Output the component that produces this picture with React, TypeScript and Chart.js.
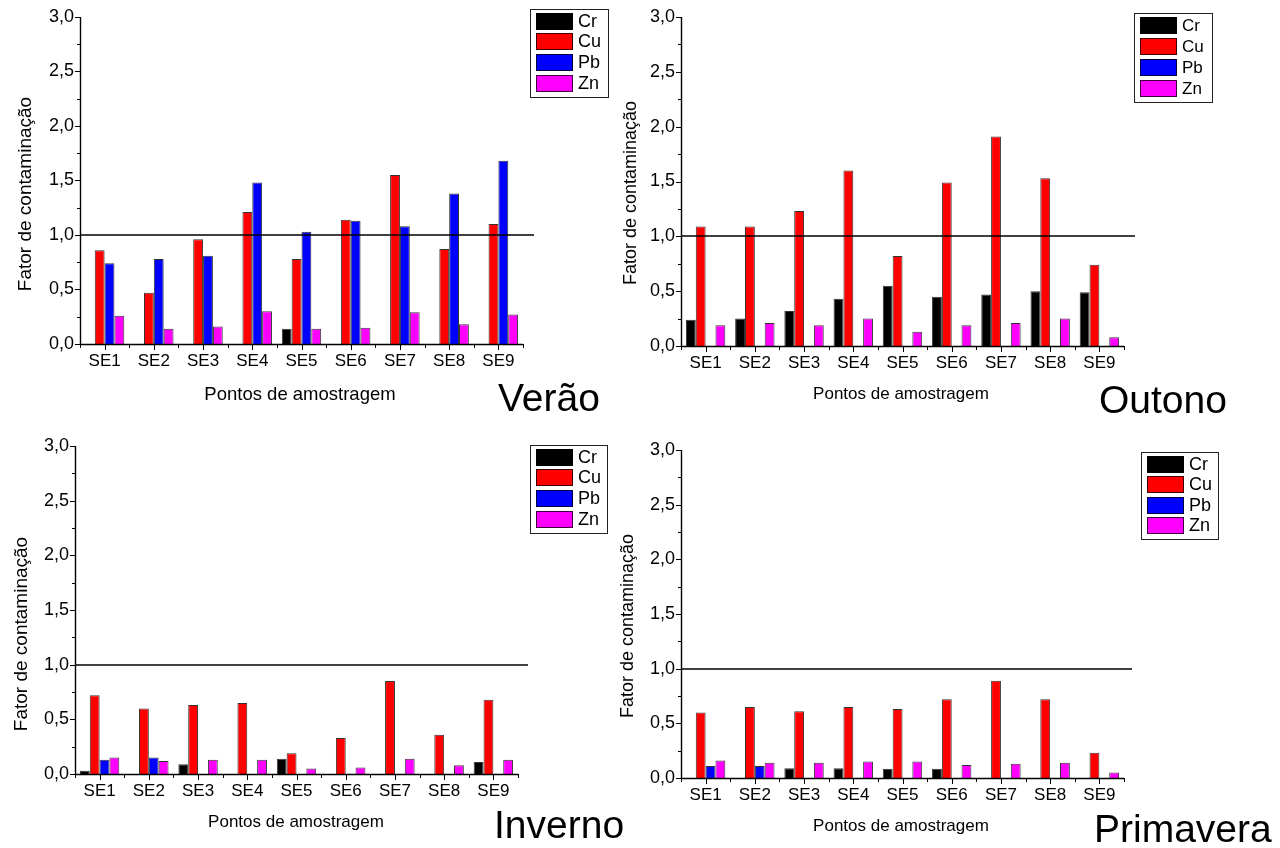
import React, { useEffect, useRef } from 'react';
import { Chart, registerables } from 'chart.js';

Chart.register(...registerables);

// ---------- data ----------
const categories = ['SE1', 'SE2', 'SE3', 'SE4', 'SE5', 'SE6', 'SE7', 'SE8', 'SE9'];
const metals = ['Cr', 'Cu', 'Pb', 'Zn'];
const metalColors = ['#000000', '#ff0000', '#0000ff', '#ff00ff'];
const yTickLabels = ['0,0', '0,5', '1,0', '1,5', '2,0', '2,5', '3,0'];
const referenceLevel = 1.0;
const yAxisTitle = 'Fator de contaminação';
const xAxisTitle = 'Pontos de amostragem';

const veraoCr = [null, null, null, null, 0.14, null, null, null, null];
const veraoCu = [0.86, 0.47, 0.96, 1.21, 0.78, 1.14, 1.55, 0.87, 1.1];
const veraoPb = [0.74, 0.78, 0.81, 1.48, 1.03, 1.13, 1.08, 1.38, 1.68];
const veraoZn = [0.26, 0.14, 0.16, 0.3, 0.14, 0.15, 0.29, 0.18, 0.27];

const outonoCr = [0.24, 0.25, 0.32, 0.43, 0.55, 0.45, 0.47, 0.5, 0.49];
const outonoCu = [1.09, 1.09, 1.23, 1.6, 0.82, 1.49, 1.91, 1.53, 0.74];
const outonoPb = [null, null, null, null, null, null, null, null, null];
const outonoZn = [0.19, 0.21, 0.19, 0.25, 0.13, 0.19, 0.21, 0.25, 0.08];

const invernoCr = [0.03, null, 0.09, null, 0.14, null, null, null, 0.11];
const invernoCu = [0.72, 0.6, 0.63, 0.65, 0.19, 0.33, 0.85, 0.36, 0.68];
const invernoPb = [0.13, 0.15, null, null, null, null, null, null, null];
const invernoZn = [0.15, 0.12, 0.13, 0.13, 0.05, 0.06, 0.14, 0.08, 0.13];

const primaveraCr = [null, null, 0.09, 0.09, 0.085, 0.085, null, null, null];
const primaveraCu = [0.6, 0.65, 0.61, 0.65, 0.63, 0.72, 0.89, 0.72, 0.23];
const primaveraPb = [0.11, 0.11, null, null, null, null, null, null, null];
const primaveraZn = [0.16, 0.14, 0.14, 0.15, 0.15, 0.12, 0.13, 0.14, 0.05];

// ---------- layout ----------
const FONT = "'Liberation Sans', Arial, sans-serif";
const PAGE_W = 1280;
const PAGE_H = 848;
const Y_SCALE_W = 60;
const X_SCALE_H = 40;

type Panel = {
  season: string;
  series: (number | null)[][];
  axisX: number;
  axisEnd: number;
  yTop: number;
  y0: number;
  lineEnd: number;
  legend: { x: number; y: number; w: number; h: number; size: number };
  xTitle: { x: number; y: number; size: number };
  yTitle: { x: number; y: number; size: number };
  label: { x: number; y: number };
};

const panels: Panel[] = [
  {
    season: 'Verão',
    series: [veraoCr, veraoCu, veraoPb, veraoZn],
    axisX: 80, axisEnd: 523, yTop: 16, y0: 344, lineEnd: 534,
    legend: { x: 530, y: 9, w: 78, h: 88, size: 18 },
    xTitle: { x: 300, y: 400, size: 18.5 },
    yTitle: { x: 26, y: 194, size: 19 },
    label: { x: 498, y: 411 },
  },
  {
    season: 'Outono',
    series: [outonoCr, outonoCu, outonoPb, outonoZn],
    axisX: 681, axisEnd: 1124, yTop: 17, y0: 346, lineEnd: 1135,
    legend: { x: 1134, y: 13, w: 78, h: 89, size: 17 },
    xTitle: { x: 901, y: 399, size: 17 },
    yTitle: { x: 631, y: 193, size: 18 },
    label: { x: 1099, y: 413 },
  },
  {
    season: 'Inverno',
    series: [invernoCr, invernoCu, invernoPb, invernoZn],
    axisX: 75, axisEnd: 518, yTop: 446, y0: 774, lineEnd: 528,
    legend: { x: 530, y: 445, w: 77, h: 88, size: 18 },
    xTitle: { x: 296, y: 827, size: 17 },
    yTitle: { x: 22, y: 634, size: 19 },
    label: { x: 494, y: 838 },
  },
  {
    season: 'Primavera',
    series: [primaveraCr, primaveraCu, primaveraPb, primaveraZn],
    axisX: 681, axisEnd: 1124, yTop: 450, y0: 778, lineEnd: 1132,
    legend: { x: 1141, y: 452, w: 77, h: 87, size: 18 },
    xTitle: { x: 901, y: 831, size: 17 },
    yTitle: { x: 628, y: 626, size: 18 },
    label: { x: 1094, y: 842 },
  },
];

function makeDecor(p: Panel) {
  return {
    id: 'decor',
    afterDatasetsDraw(chart: any) {
      const { ctx, chartArea, scales } = chart;
      const xs = scales.x;
      const ys = scales.y;
      const L = Math.round(chartArea.left);
      const R = Math.round(chartArea.right);
      const T = Math.round(chartArea.top);
      const B = Math.round(chartArea.bottom);
      ctx.save();
      ctx.strokeStyle = '#000';
      ctx.fillStyle = '#000';

      // reference line at 1,0
      const yr = Math.round(ys.getPixelForValue(referenceLevel));
      ctx.lineWidth = 1.5;
      ctx.beginPath();
      ctx.moveTo(L, yr);
      ctx.lineTo(p.lineEnd, yr);
      ctx.stroke();

      // axes
      ctx.lineWidth = 1.4;
      ctx.beginPath();
      ctx.moveTo(L + 0.5, T);
      ctx.lineTo(L + 0.5, B + 1);
      ctx.moveTo(L, B + 0.5);
      ctx.lineTo(R, B + 0.5);
      ctx.stroke();

      ctx.lineWidth = 1;
      ctx.beginPath();
      // y ticks (major 0.5, minor 0.25)
      for (let k = 0; k <= 12; k++) {
        const v = k * 0.25;
        const py = Math.round(ys.getPixelForValue(v)) + 0.5;
        const len = k % 2 === 0 ? 5 : 3;
        ctx.moveTo(L - len, py);
        ctx.lineTo(L, py);
      }
      // x ticks: centres (major) and boundaries (minor)
      const step = xs.getPixelForValue(1) - xs.getPixelForValue(0);
      for (let i = 0; i < categories.length; i++) {
        const cx = Math.round(xs.getPixelForValue(i)) + 0.5;
        ctx.moveTo(cx, B);
        ctx.lineTo(cx, B + 6);
      }
      for (let i = 0; i <= categories.length; i++) {
        const bx = Math.round(xs.getPixelForValue(i) - step / 2) + 0.5;
        ctx.moveTo(bx, B);
        ctx.lineTo(bx, B + 4);
      }
      ctx.stroke();

      // axis titles
      ctx.textAlign = 'center';
      ctx.textBaseline = 'alphabetic';
      ctx.font = `${p.xTitle.size}px ${FONT}`;
      ctx.fillText(xAxisTitle, p.xTitle.x, p.xTitle.y);

      ctx.save();
      ctx.translate(p.yTitle.x, p.yTitle.y);
      ctx.rotate(-Math.PI / 2);
      ctx.textBaseline = 'middle';
      ctx.font = `${p.yTitle.size}px ${FONT}`;
      ctx.fillText(yAxisTitle, 0, 0);
      ctx.restore();

      // legend
      const lg = p.legend;
      ctx.lineWidth = 1;
      ctx.strokeStyle = '#222';
      ctx.strokeRect(lg.x + 0.5, lg.y + 0.5, lg.w, lg.h);
      ctx.textAlign = 'left';
      ctx.textBaseline = 'middle';
      ctx.font = `${lg.size}px ${FONT}`;
      const pitch = (lg.h - 5) / 4;
      metals.forEach((m, i) => {
        const sy = lg.y + 3.5 + i * pitch;
        ctx.fillStyle = metalColors[i];
        ctx.fillRect(lg.x + 6, Math.round(sy), 37, 17);
        ctx.strokeStyle = 'rgba(0,0,0,0.75)';
        ctx.strokeRect(lg.x + 6.5, Math.round(sy) + 0.5, 36, 16);
        ctx.fillStyle = '#000';
        ctx.fillText(m, lg.x + 48, Math.round(sy) + 9.5);
      });

      // season label
      ctx.textAlign = 'left';
      ctx.textBaseline = 'alphabetic';
      ctx.font = `39px ${FONT}`;
      ctx.fillStyle = '#000';
      ctx.fillText(p.season, p.label.x, p.label.y);

      ctx.restore();
    },
  };
}

function PanelChart({ p }: { p: Panel }) {
  const ref = useRef<HTMLCanvasElement | null>(null);
  useEffect(() => {
    if (!ref.current) return;
    const chart = new Chart(ref.current, {
      type: 'bar',
      data: {
        labels: categories,
        datasets: metals.map((m, i) => ({
          label: m,
          data: p.series[i] as any,
          backgroundColor: metalColors[i],
          borderColor: 'rgba(0,0,0,0.8)',
          borderWidth: 1,
          categoryPercentage: 0.8,
          barPercentage: 1.0,
        })),
      },
      options: {
        animation: false,
        responsive: false,
        devicePixelRatio: 1,
        layout: {
          autoPadding: false,
          padding: {
            left: p.axisX - Y_SCALE_W,
            right: PAGE_W - p.axisEnd,
            top: p.yTop,
            bottom: PAGE_H - X_SCALE_H - p.y0,
          },
        },
        plugins: {
          legend: { display: false },
          tooltip: { enabled: false },
        },
        scales: {
          x: {
            grid: { display: false, drawTicks: false },
            border: { display: false },
            ticks: {
              color: '#000',
              font: { family: FONT, size: 17 },
              padding: 7,
              maxRotation: 0,
              autoSkip: false,
            },
            afterFit: (s: any) => {
              s.height = X_SCALE_H;
            },
          },
          y: {
            min: 0,
            max: 3,
            grid: { display: false, drawTicks: false },
            border: { display: false },
            ticks: {
              stepSize: 0.5,
              color: '#000',
              font: { family: FONT, size: 18 },
              padding: 6,
              callback: (_v: any, idx: number) => yTickLabels[idx],
            },
            afterFit: (s: any) => {
              s.width = Y_SCALE_W;
            },
          },
        },
      } as any,
      plugins: [makeDecor(p)],
    });
    return () => chart.destroy();
  }, [p]);
  return (
    <canvas
      ref={ref}
      width={PAGE_W}
      height={PAGE_H}
      style={{ position: 'absolute', left: 0, top: 0, width: PAGE_W, height: PAGE_H }}
    />
  );
}

export default function App() {
  return (
    <div
      style={{
        position: 'absolute',
        left: 0,
        top: 0,
        width: PAGE_W,
        height: PAGE_H,
        background: '#fff',
        overflow: 'hidden',
      }}
    >
      {panels.map((p) => (
        <PanelChart key={p.season} p={p} />
      ))}
    </div>
  );
}
